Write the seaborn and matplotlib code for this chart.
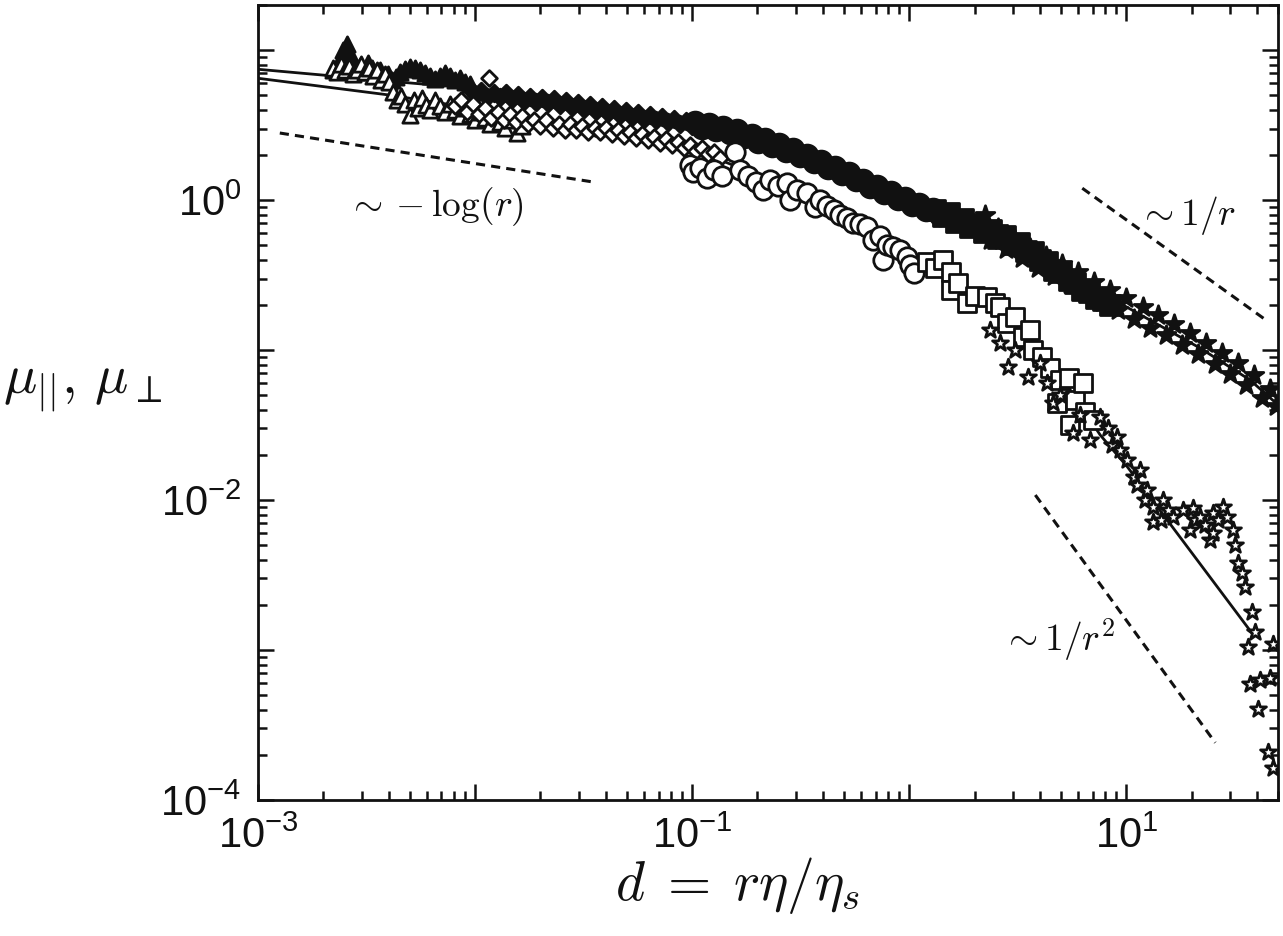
import matplotlib
matplotlib.use("Agg")
import numpy as np
import matplotlib.pyplot as plt
from matplotlib.ticker import FixedLocator, LogLocator, NullFormatter
import seaborn as sns

# --- values (log-log axes) ---
# parallel mobility, filled symbols
par_tri_x = [2.22e-3, 2.34e-3, 2.46e-3, 2.57e-3, 2.65e-3, 2.74e-3, 2.86e-3, 2.95e-3, 3.08e-3, 3.21e-3,
             3.35e-3, 3.50e-3, 3.65e-3, 3.81e-3, 3.97e-3, 4.15e-3, 4.33e-3, 4.51e-3, 4.76e-3, 5.01e-3,
             5.29e-3, 5.58e-3, 5.89e-3, 6.21e-3, 6.55e-3, 6.90e-3, 7.28e-3, 7.67e-3, 8.09e-3, 8.53e-3,
             8.99e-3, 9.48e-3]
par_tri_y = [7.36, 8.07, 10.0, 10.9, 9.4, 7.8, 7.1, 7.8, 7.36, 8.2,
             7.6, 7.1, 7.36, 6.7, 6.9, 6.31, 6.6, 7.1, 7.5, 7.7,
             7.6, 7.36, 7.0, 6.7, 6.4, 6.7, 7.0, 6.7, 6.31, 6.5,
             6.1, 5.9]

par_dia_x = [9.48e-3, 1.01e-2, 1.07e-2, 1.14e-2, 1.22e-2, 1.30e-2, 1.39e-2, 1.48e-2, 1.58e-2, 1.68e-2,
             1.79e-2, 1.91e-2, 2.04e-2, 2.17e-2, 2.31e-2, 2.47e-2, 2.63e-2, 2.80e-2, 2.99e-2, 3.18e-2,
             3.39e-2, 3.62e-2, 3.85e-2, 4.11e-2, 4.38e-2, 4.66e-2, 4.97e-2, 5.29e-2, 5.64e-2, 6.01e-2,
             6.40e-2, 6.82e-2, 7.27e-2, 7.75e-2, 8.25e-2, 8.81e-2, 9.38e-2, 0.100, 0.107]
par_dia_y = [5.50, 5.01, 5.33, 4.86, 5.17, 4.86, 5.17, 4.71, 5.01, 4.57,
             4.86, 4.50, 4.79, 4.43, 4.71, 4.30, 4.57, 4.17, 4.43, 4.04,
             4.30, 3.92, 4.17, 3.80, 4.04, 3.69, 3.92, 3.58, 3.80, 3.47,
             3.69, 3.41, 3.58, 3.31, 3.47, 3.21, 3.37, 3.10, 3.26]

par_circ_x = [0.103, 0.111, 0.120, 0.129, 0.139, 0.150, 0.161, 0.174, 0.188, 0.202,
              0.217, 0.234, 0.252, 0.271, 0.292, 0.315, 0.339, 0.365, 0.393, 0.423,
              0.456, 0.491, 0.529, 0.570, 0.613, 0.661, 0.712, 0.767, 0.826, 0.889,
              0.959, 1.03, 1.11, 1.20, 1.29, 1.39]
par_circ_y = [3.31, 3.02, 3.21, 2.93, 3.07, 2.80, 2.93, 2.63, 2.71, 2.44,
              2.55, 2.29, 2.36, 2.12, 2.19, 1.96, 2.00, 1.79, 1.82, 1.63,
              1.66, 1.49, 1.51, 1.36, 1.36, 1.22, 1.24, 1.11, 1.13, 1.02,
              1.03, 0.926, 0.94, 0.858, 0.871, 0.794]

par_sq_x = [1.32, 1.43, 1.52, 1.65, 1.77, 1.91, 2.06, 2.22, 2.39, 2.57,
            2.77, 2.98, 3.21, 3.46, 3.73, 4.02, 4.33, 4.67, 5.03, 5.42,
            5.82, 6.28, 6.75, 7.28, 7.85, 8.43]
par_sq_y = [0.858, 0.782, 0.819, 0.713, 0.747, 0.661, 0.692, 0.612, 0.631, 0.558,
            0.575, 0.509, 0.517, 0.457, 0.450, 0.398, 0.386, 0.341, 0.331, 0.293,
            0.280, 0.251, 0.243, 0.222, 0.215, 0.200]

par_star_x = [2.24, 2.36, 2.57, 2.80, 3.05, 3.32, 3.61, 3.93, 4.28, 4.67,
              5.07, 5.52, 6.01, 6.55, 7.13, 7.75, 8.43, 9.19, 10.0, 10.9,
              11.9, 12.9, 14.0, 15.3, 16.6, 18.1, 19.7, 21.5, 23.4, 25.5,
              27.7, 30.1, 32.8, 35.7, 38.9, 42.4, 46.1, 49.1]
par_star_y = [0.794, 0.541, 0.651, 0.471, 0.558, 0.411, 0.479, 0.352, 0.423, 0.311,
              0.375, 0.275, 0.331, 0.240, 0.284, 0.209, 0.251, 0.185, 0.222, 0.161,
              0.194, 0.140, 0.171, 0.126, 0.149, 0.108, 0.130, 0.0940, 0.111, 0.0807,
              0.0955, 0.0692, 0.0818, 0.0584, 0.0681, 0.0479, 0.0550, 0.0424]

# perpendicular mobility, open symbols
perp_tri_x = [2.22e-3, 2.32e-3, 2.41e-3, 2.52e-3, 2.63e-3, 2.74e-3, 2.86e-3, 2.98e-3, 3.11e-3, 3.25e-3,
              3.39e-3, 3.54e-3, 3.69e-3, 3.85e-3, 4.02e-3, 4.19e-3, 4.37e-3, 4.56e-3, 4.76e-3, 5.01e-3,
              5.23e-3, 5.46e-3, 5.70e-3, 5.95e-3, 6.21e-3, 6.55e-3, 6.90e-3, 7.28e-3, 7.67e-3, 8.09e-3,
              8.53e-3, 8.99e-3, 9.48e-3, 1.00e-2, 1.05e-2, 1.11e-2, 1.17e-2, 1.23e-2, 1.30e-2, 1.37e-2,
              1.45e-2, 1.56e-2, 1.64e-2]
perp_tri_y = [7.6, 7.1, 8.07, 7.36, 7.8, 6.9, 7.36, 8.07, 7.1, 7.6,
              6.7, 7.36, 6.31, 6.9, 6.1, 5.25, 4.64, 4.94, 4.36, 3.69,
              4.64, 4.11, 4.79, 4.30, 3.98, 4.64, 4.23, 3.86, 4.36, 3.98,
              3.63, 4.11, 3.74, 3.41, 3.86, 3.52, 3.21, 3.63, 3.31, 3.02,
              3.41, 2.80, 3.10]

perp_dia_x = [8.09e-3, 8.61e-3, 9.18e-3, 9.79e-3, 1.04e-2, 1.11e-2, 1.16e-2, 1.19e-2, 1.27e-2, 1.36e-2,
              1.45e-2, 1.54e-2, 1.64e-2, 1.75e-2, 1.87e-2, 2.00e-2, 2.13e-2, 2.28e-2, 2.43e-2, 2.59e-2,
              2.74e-2, 2.93e-2, 3.12e-2, 3.33e-2, 3.55e-2, 3.77e-2, 4.03e-2, 4.29e-2, 4.57e-2, 4.86e-2,
              5.18e-2, 5.52e-2, 5.89e-2, 6.27e-2, 6.67e-2, 7.12e-2, 7.58e-2, 8.07e-2, 8.61e-2, 9.17e-2,
              9.79e-2, 0.104, 0.111, 0.118, 0.126, 0.135]
perp_dia_y = [4.23, 4.64, 3.86, 4.36, 3.74, 4.11, 6.5, 3.52, 3.86, 3.41,
              3.74, 3.31, 3.63, 3.21, 3.41, 3.10, 3.41, 3.02, 3.21, 2.93,
              3.21, 2.93, 3.10, 2.84, 3.02, 2.84, 3.02, 2.75, 2.93, 2.67,
              2.84, 2.59, 2.75, 2.51, 2.63, 2.40, 2.55, 2.33, 2.44, 2.22,
              2.33, 2.12, 2.22, 2.03, 2.09, 1.91]

perp_circ_x = [0.0979, 0.101, 0.109, 0.117, 0.126, 0.137, 0.158, 0.166, 0.181, 0.197,
               0.212, 0.229, 0.249, 0.274, 0.283, 0.305, 0.339, 0.369, 0.389, 0.419,
               0.448, 0.481, 0.518, 0.552, 0.594, 0.640, 0.683, 0.735, 0.758, 0.793,
               0.844, 0.909, 0.979, 1.01, 1.05]
perp_circ_y = [1.71, 1.54, 1.63, 1.40, 1.58, 1.45, 2.09, 1.58, 1.45, 1.32,
               1.17, 1.36, 1.24, 1.30, 1.00, 1.17, 1.11, 0.898, 1.00, 0.912,
               0.858, 0.794, 0.759, 0.702, 0.692, 0.661, 0.541, 0.575, 0.398, 0.501,
               0.486, 0.464, 0.417, 0.369, 0.326]

perp_sq_x = [1.21, 1.32, 1.43, 1.55, 1.55, 1.68, 1.85, 2.01, 2.29, 2.49,
             2.62, 2.83, 3.08, 3.35, 3.61, 3.73, 4.11, 4.47, 4.81, 4.96,
             5.42, 5.52, 5.82, 6.34, 6.47, 7.05]
perp_sq_y = [0.386, 0.352, 0.398, 0.331, 0.251, 0.280, 0.206, 0.229, 0.226, 0.206,
             0.194, 0.151, 0.166, 0.122, 0.136, 0.100, 0.0898, 0.0759, 0.0443, 0.0631,
             0.0649, 0.0316, 0.0464, 0.0601, 0.0385, 0.0341]

perp_star_x = [2.36, 2.62, 2.84, 3.08, 3.51, 4.02, 4.33, 4.62, 4.96, 5.70,
               6.14, 6.82, 7.59, 8.26, 8.61, 9.10, 9.38, 10.1, 10.8, 11.2,
               11.6, 12.2, 12.5, 13.3, 13.3, 14.4, 14.8, 15.6, 16.5, 18.3,
               19.7, 20.4, 20.8, 21.9, 23.1, 24.4, 25.2, 25.2, 26.5, 28.0,
               29.2, 31.1, 31.8, 32.8, 34.3, 35.3, 38.1, 39.3, 36.5, 47.6,
               37.2, 41.5, 46.1, 40.6, 45.1, 47.6]
perp_star_y = [0.136, 0.111, 0.0774, 0.100, 0.0662, 0.0818, 0.0601, 0.0443, 0.0501, 0.0279,
               0.0369, 0.0251, 0.0359, 0.0302, 0.0233, 0.0263, 0.0215, 0.0185, 0.0142, 0.0126,
               0.0158, 0.0100, 0.0117, 8.93e-3, 7.11e-3, 7.36e-3, 0.0100, 8.58e-3, 7.71e-3, 8.58e-3,
               6.31e-3, 8.85e-3, 7.36e-3, 7.71e-3, 6.81e-3, 5.41e-3, 8.19e-3, 6.03e-3, 7.36e-3, 8.93e-3,
               7.71e-3, 6.31e-3, 5.01e-3, 3.83e-3, 3.27e-3, 2.63e-3, 1.78e-3, 1.31e-3, 1.04e-3, 1.10e-3,
               5.92e-4, 6.31e-4, 6.53e-4, 4.06e-4, 2.08e-4, 1.64e-4]

# theory curves (solid)
par_fit_x = [1.0e-3, 2.22e-3, 4.51e-3, 9.48e-3, 2.22e-2, 3.77e-2, 6.40e-2, 0.109, 0.185, 0.315,
             0.535, 0.909, 1.55, 2.62, 4.47, 7.59, 12.9, 21.9, 37.2, 50.1]
par_fit_y = [7.45, 6.72, 6.12, 5.58, 4.79, 4.11, 3.74, 3.21, 2.51, 1.91,
             1.40, 1.03, 0.759, 0.558, 0.386, 0.243, 0.158, 0.103, 0.0631, 0.0430]
perp_fit_x = [1.0e-3, 4.06e-3, 8.53e-3, 2.22e-2, 3.77e-2, 6.40e-2, 0.109, 0.185, 0.315, 0.535,
              0.909, 1.55, 2.62, 4.47, 7.59, 10.1, 38.5]
perp_fit_y = [6.49, 5.01, 4.23, 3.31, 2.93, 2.59, 2.09, 1.54, 1.08, 0.736,
              0.479, 0.293, 0.179, 0.0858, 0.0271, 0.0167, 1.26e-3]

# asymptotic guides (dashed)
log_guide_x = [1.26e-3, 3.50e-2]
log_guide_y = [2.80, 1.32]
inv_r_guide_x = [6.27, 44.7]
inv_r_guide_y = [1.20, 0.156]
inv_r2_guide_x = [3.81, 25.7]
inv_r2_guide_y = [0.0108, 2.41e-4]

x_tick_values = [1e-3, 1e-2, 1e-1, 1e0, 1e1]
x_tick_labels = [r"$\mathdefault{10^{-3}}$", "", r"$\mathdefault{10^{-1}}$", "", r"$\mathdefault{10^{1}}$"]
y_tick_values = [1e-4, 1e-3, 1e-2, 1e-1, 1e0, 1e1]
y_tick_labels = [r"$\mathdefault{10^{-4}}$", "", r"$\mathdefault{10^{-2}}$", "", r"$\mathdefault{10^{0}}$", ""]

INK = "#111111"

sns.set_theme(style="ticks")
plt.rcParams["font.family"] = ["Liberation Sans", "DejaVu Sans"]
plt.rcParams["mathtext.fontset"] = "cm"

fig = plt.figure(figsize=(12.83, 9.36), dpi=100)
ax = fig.add_axes([0.2011, 0.1453, 0.795, 0.8494])
ax.set_xscale("log")
ax.set_yscale("log")


def draw_line(x, y, dashed=False):
    style = (0, (3, 2)) if dashed else "-"
    sns.lineplot(x=x, y=y, color=INK, lw=2.2 if dashed else 2.0, linestyle=style,
                 sort=False, estimator=None, ax=ax, zorder=2)


def draw_points(x, y, marker, size, filled, z):
    sns.scatterplot(x=x, y=y, marker=marker, s=size ** 2,
                    facecolor=INK if filled else "white", edgecolor=INK,
                    linewidth=2.0, ax=ax, zorder=z)


draw_line(par_fit_x, par_fit_y)
draw_line(perp_fit_x, perp_fit_y)
draw_line(log_guide_x, log_guide_y, dashed=True)
draw_line(inv_r_guide_x, inv_r_guide_y, dashed=True)
draw_line(inv_r2_guide_x, inv_r2_guide_y, dashed=True)

# filled symbols first, open ones on top
draw_points(par_tri_x, par_tri_y, "^", 11, True, 3)
draw_points(par_dia_x, par_dia_y, "D", 8.5, True, 3)
draw_points(par_circ_x, par_circ_y, "o", 15, True, 3)
draw_points(par_sq_x, par_sq_y, "s", 14, True, 3)
draw_points(par_star_x, par_star_y, "*", 14, True, 3)

draw_points(perp_tri_x, perp_tri_y, "^", 11, False, 4)
draw_points(perp_dia_x, perp_dia_y, "D", 8, False, 4)
draw_points(perp_circ_x, perp_circ_y, "o", 14, False, 4)
draw_points(perp_sq_x, perp_sq_y, "s", 13, False, 4)
draw_points(perp_star_x, perp_star_y, "*", 12, False, 4)

ax.set_xlim(1e-3, 50)
ax.set_ylim(1e-4, 20)

ax.xaxis.set_major_locator(FixedLocator(x_tick_values))
ax.set_xticklabels(x_tick_labels)
ax.yaxis.set_major_locator(FixedLocator(y_tick_values))
ax.set_yticklabels(y_tick_labels)
for axis in (ax.xaxis, ax.yaxis):
    axis.set_minor_locator(LogLocator(base=10, subs=np.arange(2, 10), numticks=30))
    axis.set_minor_formatter(NullFormatter())

ax.tick_params(which="both", direction="in", top=True, right=True, width=1.8, color=INK)
ax.tick_params(which="major", length=11.5, labelsize=30, labelcolor=INK)
ax.tick_params(axis="x", which="major", pad=12)
ax.tick_params(axis="y", which="major", pad=12)
ax.tick_params(which="minor", length=6.5)
for spine in ax.spines.values():
    spine.set_linewidth(2.0)
    spine.set_color(INK)

ax.set_xlabel(r"$d\;=\;r\eta/\eta_s$", fontsize=40, color=INK)
ax.xaxis.label.set_verticalalignment("center")
ax.xaxis.set_label_coords(0.47, -0.108)
ax.set_ylabel(r"$\mu_{||},\,\mu_\perp$", fontsize=40, rotation=0, color=INK,
              ha="center", va="center")
ax.yaxis.set_label_coords(-0.172, 0.52)

ax.text(6.6e-3, 0.90, r"$\sim -\log(r)$", fontsize=27, ha="center", va="center", color=INK)
ax.text(19.1, 0.79, r"$\sim 1/r$", fontsize=27, ha="center", va="center", color=INK)
ax.text(4.86, 1.17e-3, r"$\sim 1/r^2$", fontsize=27, ha="center", va="center", color=INK)

fig.savefig("out.png", dpi=100)
